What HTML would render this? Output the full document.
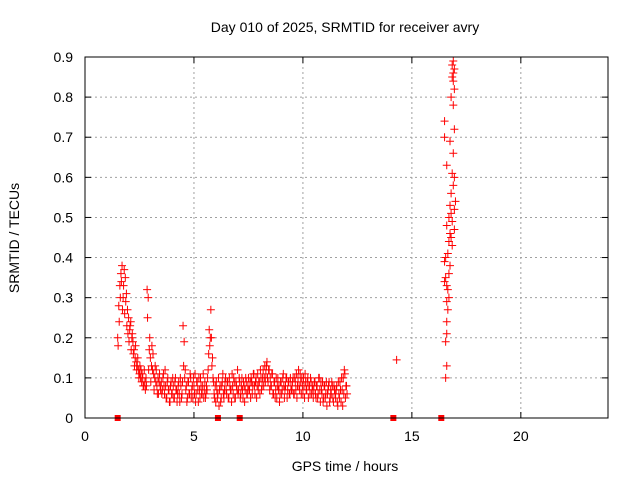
<!DOCTYPE html>
<html><head><meta charset="utf-8"><style>
body{margin:0;background:#fff;font-family:"Liberation Sans",sans-serif}
svg text{font-family:"Liberation Sans",sans-serif;font-size:14px;fill:#000}
</style></head><body>
<svg id="chart" width="640" height="480" xmlns="http://www.w3.org/2000/svg">
<rect width="640" height="480" fill="#fff"/>
<g id="grid"></g><g id="marks"></g><g id="axes"></g>
<text x="345" y="32" text-anchor="middle">Day 010 of 2025, SRMTID for receiver avry</text>
<text x="345" y="471" text-anchor="middle">GPS time / hours</text>
<text x="19" y="238" text-anchor="middle" transform="rotate(-90 19 238)">SRMTID / TECUs</text>
</svg>
<script>
const xTicks=[0,5,10,15,20];
const yTicks=[0,0.1,0.2,0.3,0.4,0.5,0.6,0.7,0.8,0.9];
const earlyTimes=[1.50,1.55,1.60,1.65,1.70,1.75,1.80,1.85,1.90,1.95,2.00,2.05,2.10,2.15,2.20,2.25,2.30,2.35,2.40,2.45,2.50,2.55,2.60,2.65,2.70,2.75,2.80,2.85,2.90,2.95,3.00,3.05,3.10,3.15,3.20,3.25,3.30,3.35,3.40,3.45];
const earlyA=[0.20,0.28,0.33,0.36,0.38,0.30,0.37,0.35,0.31,0.27,0.25,0.22,0.24,0.20,0.19,0.17,0.15,0.14,0.13,0.12,0.11,0.10,0.09,0.10,0.08,0.09,0.10,0.32,0.30,0.17,0.15,0.13,0.12,0.11,0.10,0.09,0.08,0.10,0.09,0.08];
const earlyB=[0.18,0.24,0.30,0.34,0.27,0.33,0.26,0.29,0.23,0.21,0.19,0.23,0.17,0.21,0.16,0.13,0.18,0.12,0.15,0.10,0.13,0.12,0.11,0.08,0.12,0.07,0.08,0.25,0.12,0.20,0.09,0.18,0.16,0.07,0.13,0.12,0.06,0.06,0.11,0.07];
const bandStart=3.5, bandStep=0.05;
const bandA=[0.09,0.07,0.11,0.06,0.08,0.05,0.10,0.07,0.04,0.09,0.06,0.08,0.05,0.10,0.07,0.06,0.09,0.04,0.08,0.06,
0.23,0.19,0.12,0.08,0.05,0.09,0.06,0.10,0.07,0.05,0.08,0.11,0.06,0.09,0.04,0.07,0.10,0.06,0.08,0.05,
0.09,0.06,0.07,0.12,0.22,0.20,0.20,0.15,0.09,0.05,0.04,0.07,0.06,0.03,0.08,0.05,0.09,0.06,0.07,0.10,
0.06,0.09,0.05,0.08,0.07,0.11,0.06,0.09,0.05,0.08,0.12,0.07,0.09,0.06,0.10,0.05,0.08,0.07,0.09,0.06,
0.10,0.07,0.05,0.09,0.08,0.11,0.06,0.10,0.08,0.07,0.09,0.12,0.07,0.10,0.08,0.13,0.11,0.14,0.09,0.12,
0.10,0.08,0.11,0.06,0.09,0.07,0.05,0.10,0.08,0.06,0.09,0.07,0.11,0.05,0.08,0.10,0.07,0.09,0.06,0.08,
0.07,0.10,0.06,0.09,0.11,0.08,0.12,0.07,0.09,0.10,0.06,0.08,0.11,0.07,0.09,0.05,0.08,0.10,0.06,0.08,
0.07,0.09,0.05,0.08,0.06,0.10,0.04,0.07,0.09,0.05,0.08,0.06,0.03,0.07,0.09,0.05,0.06,0.08,0.04,0.07,
0.05,0.08,0.03,0.06,0.09,0.04,0.07,0.10,0.12,0.05,0.08];
const bandB=[0.06,0.10,0.08,0.12,0.05,0.09,0.07,0.04,0.08,0.06,0.10,0.05,0.09,0.07,0.04,0.08,0.06,0.10,0.05,0.09,
0.13,0.10,0.07,0.04,0.09,0.06,0.11,0.05,0.08,0.10,0.06,0.04,0.09,0.07,0.10,0.05,0.08,0.06,0.11,0.07,
0.05,0.08,0.10,0.16,0.18,0.27,0.13,0.10,0.06,0.08,0.09,0.05,0.10,0.07,0.04,0.08,0.11,0.05,0.09,0.07,
0.09,0.05,0.10,0.07,0.04,0.08,0.10,0.05,0.09,0.07,0.06,0.10,0.05,0.08,0.07,0.09,0.04,0.10,0.06,0.08,
0.07,0.09,0.10,0.06,0.11,0.08,0.09,0.05,0.11,0.09,0.06,0.10,0.08,0.12,0.10,0.09,0.13,0.10,0.12,0.07,
0.08,0.11,0.06,0.09,0.05,0.10,0.08,0.07,0.04,0.09,0.06,0.10,0.08,0.07,0.10,0.05,0.09,0.06,0.10,0.07,
0.09,0.06,0.10,0.07,0.05,0.10,0.08,0.11,0.06,0.08,0.10,0.05,0.09,0.07,0.10,0.08,0.06,0.09,0.07,0.05,
0.09,0.06,0.08,0.05,0.10,0.07,0.09,0.06,0.04,0.08,0.05,0.09,0.06,0.08,0.04,0.07,0.09,0.05,0.08,0.06,
0.07,0.04,0.09,0.05,0.07,0.10,0.03,0.06,0.11,0.08,0.06];
const lateTimes=[14.3,16.55,16.6,16.55,16.6,16.6,16.65,16.6,16.7,16.65,16.6,16.5,16.55,16.7,16.75,16.5,16.65,16.7,16.8,16.75,16.95,16.6,16.85,16.7,16.8,16.95,16.75,16.8,16.95,16.85,16.6,16.9,16.75,16.5,16.95,16.5,16.9,16.95,16.85,16.9,16.95,16.85,16.9,16.9,16.8,16.9,17.0,16.85,16.55];
const lateVals=[0.145,0.10,0.13,0.19,0.21,0.24,0.27,0.29,0.30,0.32,0.33,0.34,0.35,0.36,0.38,0.39,0.41,0.44,0.45,0.46,0.47,0.48,0.49,0.50,0.51,0.52,0.53,0.56,0.60,0.61,0.63,0.66,0.69,0.70,0.72,0.74,0.78,0.82,0.85,0.86,0.87,0.88,0.89,0.84,0.80,0.58,0.54,0.43,0.40];
const gapTimes=[1.5,6.1,7.1,14.15,16.35];

const X0=85,X1=608,Y0=418,Y1=57;
const xs=t=>X0+(t/24)*(X1-X0);
const ys=v=>Y0-(v/0.9)*(Y0-Y1);
const NS="http://www.w3.org/2000/svg";
function mk(tag,attrs,parent){const e=document.createElementNS(NS,tag);for(const k in attrs)e.setAttribute(k,attrs[k]);parent.appendChild(e);return e;}
const grid=document.getElementById('grid'),marks=document.getElementById('marks'),axes=document.getElementById('axes');
xTicks.forEach(t=>{const x=xs(t);
 if(t>0){const g=mk('line',{x1:x,x2:x,y1:Y1,y2:Y0,stroke:'#a0a0a0','stroke-dasharray':'2,3'},grid);
 
 }
 mk('line',{x1:x,x2:x,y1:Y0,y2:Y0-6,stroke:'#000'},axes);mk('line',{x1:x,x2:x,y1:Y1,y2:Y1+6,stroke:'#000'},axes);
 const l=mk('text',{x:x,y:Y0+23,'text-anchor':'middle'},axes);l.textContent=t;
 
 });
yTicks.forEach(v=>{const y=ys(v);
 if(v>0&&v<0.9){const g=mk('line',{x1:X0,x2:X1,y1:y,y2:y,stroke:'#a0a0a0','stroke-dasharray':'2,3'},grid);
 
 }
 mk('line',{x1:X0,x2:X0+6,y1:y,y2:y,stroke:'#000'},axes);mk('line',{x1:X1,x2:X1-6,y1:y,y2:y,stroke:'#000'},axes);
 const l=mk('text',{x:X0-12,y:y+5,'text-anchor':'end'},axes);l.textContent=(v===0?'0':v.toFixed(1));
 
 });
const fr=mk('rect',{x:X0,y:Y1,width:X1-X0,height:Y0-Y1,fill:'none',stroke:'#000'},axes);


function plus(t,v){const x=xs(t),y=ys(v);
 const p=mk('path',{d:`M${x-4} ${y}H${x+4}M${x} ${y-4}V${y+4}`,stroke:'#f00','stroke-width':1,fill:'none'},marks);
 
 }
earlyTimes.forEach((t,i)=>{plus(t,earlyA[i]);plus(t+0.02,earlyB[i]);});
bandA.forEach((v,i)=>plus(bandStart+i*bandStep,v));
bandB.forEach((v,i)=>plus(bandStart+i*bandStep+0.025,v));
lateTimes.forEach((t,i)=>plus(t,lateVals[i]));
gapTimes.forEach(t=>{const r=mk('rect',{x:xs(t)-3,y:Y0-3,width:6,height:6,fill:'#f00'},marks);
 
 });
</script>
</body></html>
